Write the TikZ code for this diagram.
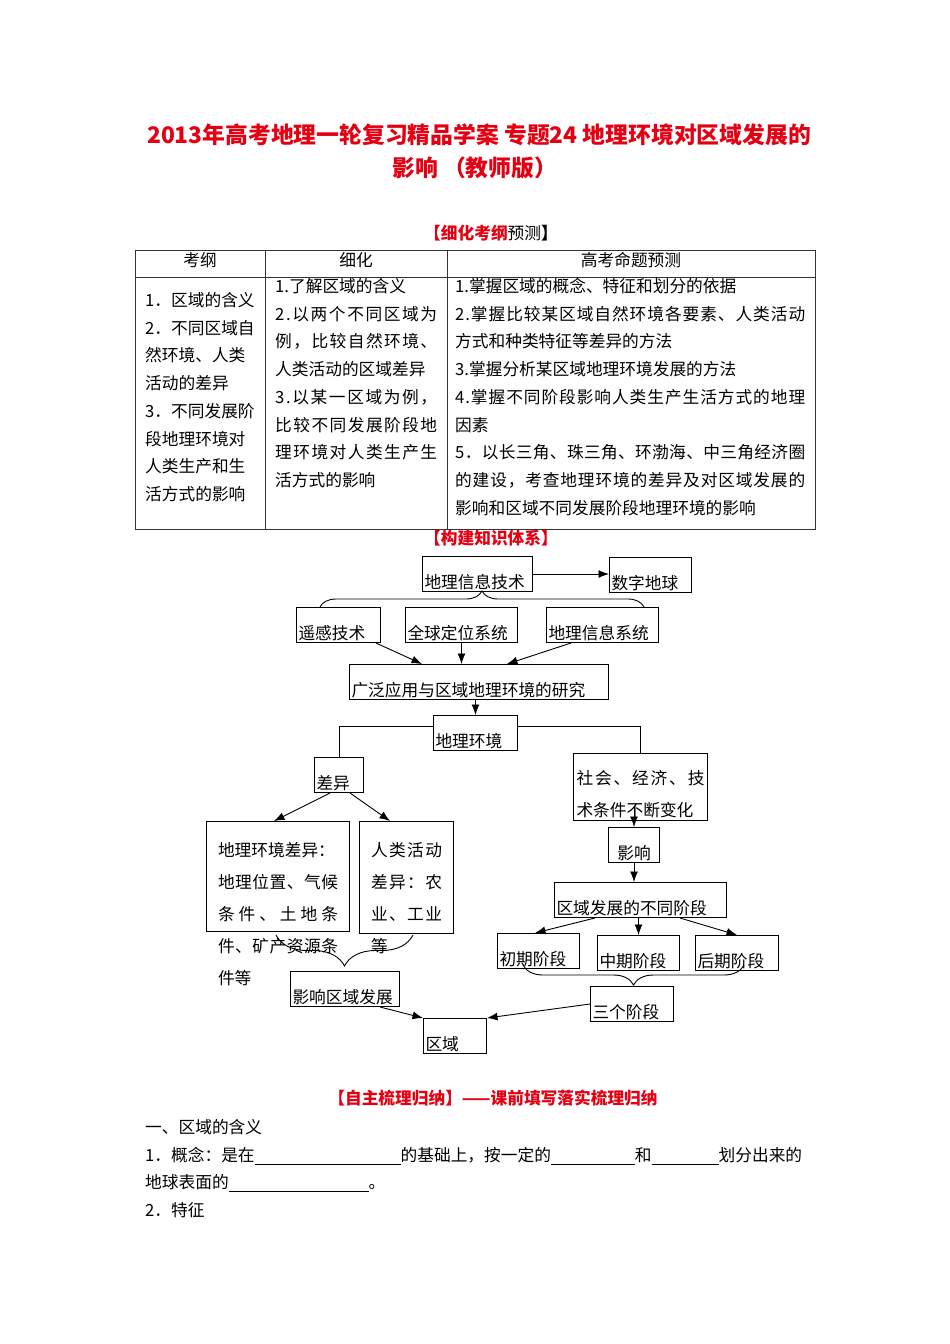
\documentclass[tikz,border=0pt]{standalone}
\usepackage{fontspec}
\setmainfont{Noto Sans CJK SC}
\usepackage{xcolor}
\usetikzlibrary{arrows.meta,positioning,calc,decorations.pathreplacing}
\definecolor{xueRed}{RGB}{228,0,18}
\newcommand\spr[2]{\makebox[#1pt][s]{\sprB#2\relax}}
\def\sprB#1{#1\sprA}
\def\sprA#1{\ifx\relax#1\else\hfil#1\expandafter\sprA\fi}
\newcommand\fillblank[1]{\rule[-3pt]{#1pt}{0.6pt}}

\begin{document}
\begin{tikzpicture}[x=1pt, y=-1pt,
    txt/.style={inner sep=0pt, font=\fontsize{16.7}{27.75}\selectfont},
    col/.style={txt, anchor=base west, align=left},
    ttl/.style={inner sep=0pt, anchor=base west,
                font=\bfseries\fontsize{22.8}{28}\selectfont\color{xueRed}},
    head/.style={inner sep=0pt, font=\bfseries\fontsize{16.7}{20}\selectfont\color{xueRed}},
    kbox/.style={draw, line width=1pt, anchor=south west, inner xsep=2pt, inner ysep=0.5pt,
                 align=left, text height=31pt, text depth=3pt,
                 font=\fontsize{16.7}{32}\selectfont},
    bigbox/.style={kbox, inner xsep=11.5pt},
    arr/.style={-{Latex[length=10.5pt,width=8pt]}, line width=0.9pt},
    lnk/.style={line width=0.9pt},
    brc/.style={decorate, line width=0.9pt, decoration={brace, amplitude=#1}},
    tab/.style={line width=0.9pt, black!80}
  ]
  \path[use as bounding box, fill=white] (0,0) rectangle (950,1344);

  \node[ttl] (title1) at (147,143.7)
    {2013年高考地理一轮复习精品学案 专题24 地理环境对区域发展的};
  \node[ttl] (title2) at (392,176.7) {影响 （教师版）};

  \node[head] (sec1) at (491,233) {【细化考纲{\mdseries\color{black}预测}\color{black}】};

  \draw[tab] (135,250) rectangle (815,529);
  \draw[tab] (135,277) -- (815,277);
  \draw[tab] (265,250) -- (265,529);
  \draw[tab] (447,250) -- (447,529);

  \node[txt] (h1) at (200,260) {考纲};
  \node[txt] (h2) at (356,260) {细化};
  \node[txt] (h3) at (631,260) {高考命题预测};

  \node[col, text width=115pt] (kgang) at (145,306.3)
    {1．区域的含义\\2．不同区域自\\然环境、人类\\活动的差异\\3．不同发展阶\\段地理环境对\\人类生产和生\\活方式的影响};
  \node[col, text width=165pt] (xihua) at (275,292.3)
    {1.了解区域的含义\\
     \spr{162}{2.以两个不同区域为}\\
     \spr{162}{例，比较自然环境、}\\
     人类活动的区域差异\\
     \spr{162}{3.以某一区域为例，}\\
     \spr{162}{比较不同发展阶段地}\\
     \spr{162}{理环境对人类生产生}\\
     活方式的影响};
  \node[col, text width=355pt] (yuce) at (455,292.3)
    {1.掌握区域的概念、特征和划分的依据\\
     \spr{350}{2.掌握比较某区域自然环境各要素、人类活动}\\
     方式和种类特征等差异的方法\\
     3.掌握分析某区域地理环境发展的方法\\
     \spr{350}{4.掌握不同阶段影响人类生产生活方式的地理}\\
     因素\\
     \spr{350}{5．以长三角、珠三角、环渤海、中三角经济圈}\\
     \spr{350}{的建设，考查地理环境的差异及对区域发展的}\\
     影响和区域不同发展阶段地理环境的影响};

  \node[head] (sec2) at (491,538) {【构建知识体系】};

  \node[kbox, text width=106pt] (xinxi) at (422,592) {地理信息技术};
  \node[kbox, text width=78pt] (shuzi) at (609,593) {数字地球};
  \node[kbox, text width=80pt] (yaogan) at (296,643) {遥感技术};
  \node[kbox, text width=108pt] (dingwei) at (405,643) {全球定位系统};
  \node[kbox, text width=108pt] (xitong) at (546,643) {地理信息系统};
  \node[kbox, text width=255pt] (yingyong) at (349,700) {广泛应用与区域地理环境的研究};
  \node[kbox, text width=80pt] (huanjing) at (433,751) {地理环境};
  \node[kbox, text width=45pt] (chayi) at (314,793) {差异};
  \node[bigbox, text width=120pt, text height=34.8pt, text depth=74.2pt] (dili) at (206,932)
    {地理环境差异：\\\spr{120}{地理位置、气候}\\\spr{120}{条件、土地条}\\\spr{120}{件、矿产资源条}\\件等};
  \node[bigbox, text width=71pt, text height=34.8pt, text depth=76.2pt] (renlei) at (359,934)
    {\spr{71}{人类活动}\\\spr{71}{差异：农}\\\spr{71}{业、工业}\\等};
  \node[kbox, inner xsep=3pt, text width=128pt, text height=30.8pt, text depth=35.2pt] (shehui)
    at (573,821) {\spr{128}{社会、经济、技}\\术条件不断变化};
  \node[kbox, text width=47pt, align=center] (yingx) at (608,863) {影响};
  \node[kbox, text width=168pt] (jieduan) at (554,918) {区域发展的不同阶段};
  \node[kbox, text width=78pt] (chuqi) at (497,969) {初期阶段};
  \node[kbox, text width=78pt] (zhongqi) at (597,971) {中期阶段};
  \node[kbox, text width=79pt] (houqi) at (695,971) {后期阶段};
  \node[kbox, text width=79pt] (sange) at (590,1022) {三个阶段};
  \node[kbox, text width=105pt] (fazhan) at (290,1007) {影响区域发展};
  \node[kbox, text width=59pt] (quyu) at (423,1054) {区域};

  \draw[arr] (xinxi.east) -- (xinxi.east -| shuzi.west);
  \draw[brc=16pt] ($(yaogan.north west)+(24,0)$) -- ($(xitong.north east)+(-15,0)$);
  \draw[arr] ($(yaogan.south east)+(-5,0)$) -- ($(yingyong.north west)+(73,0)$);
  \draw[arr] (dingwei.south) -- (dingwei.south |- yingyong.north);
  \draw[arr] ($(xitong.south west)+(25,0)$) -- ($(yingyong.north west)+(158,0)$);
  \draw[arr] (yingyong.south -| huanjing.north) -- (huanjing.north);
  \draw[lnk] ($(huanjing.west)+(0,-6.5)$) -| (chayi.north);
  \draw[lnk] ($(huanjing.east)+(0,-6.5)$) -| (shehui.north);
  \draw[arr] ($(chayi.south west)+(16,0)$) -- ($(dili.north west)+(68,0)$);
  \draw[arr] ($(chayi.south east)+(-14,0)$) -- ($(renlei.north west)+(31,0)$);
  \draw[brc=31pt, decoration={mirror}] ($(dili.south west)+(70,3)$) -- ($(renlei.south west)+(54,1)$);
  \draw[arr] ($(fazhan.south east)+(-20,0)$) -- (quyu.north west);
  \draw[arr] ($(shehui.south -| yingx.north)+(0,-15)$) -- (yingx.north);
  \draw[arr] (yingx.south) -- (yingx.south |- jieduan.north);
  \draw[arr] ($(jieduan.south west)+(41,0)$) -- ($(chuqi.north west)+(38,0)$);
  \draw[arr] (jieduan.south -| zhongqi.north) -- (zhongqi.north);
  \draw[arr] ($(jieduan.south west)+(126,0)$) -- ($(houqi.north west)+(42,0)$);
  \draw[brc=20pt, decoration={mirror}] ($(chuqi.south west)+(26,-4)$) -- ($(houqi.south east)+(-35,-6)$);
  \draw[arr] (sange.west) -- (quyu.north east);

  \node[head] (sec3) at (493,1098) {【自主梳理归纳】——课前填写落实梳理归纳};
  \node[col] (yi) at (145,1133.3) {一、区域的含义};
  \node[col] (gn1) at (145,1161.3)
    {1．概念：是在\fillblank{146}的基础上，按一定的\fillblank{84}和\fillblank{67}划分出来的};
  \node[col] (gn2) at (145,1188.3) {地球表面的\fillblank{140}。};
  \node[col] (tz) at (145,1216.3) {2．特征};
\end{tikzpicture}
\end{document}
